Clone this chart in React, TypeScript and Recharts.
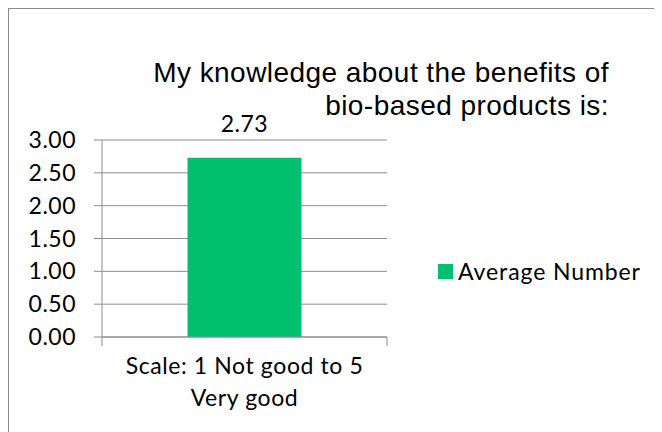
import React from 'react';
import {
  BarChart,
  Bar,
  XAxis,
  YAxis,
  CartesianGrid,
  Legend,
  LabelList,
} from 'recharts';

const categories = ['Scale: 1 Not good to 5\nVery good'];
const averageNumber = [2.73];
const yTicks = [0, 0.5, 1, 1.5, 2, 2.5, 3];
const seriesName = 'Average Number';
const titleLines = ['My knowledge about the benefits of', 'bio-based products is:'];

const data = categories.map((c, i) => ({ category: c, value: averageNumber[i] }));

const W = 653;
const H = 423;
const margin = { top: 131, right: 275, bottom: 5, left: 0 };
const yAxisWidth = 93;
const plotWidth = W - margin.left - margin.right - yAxisWidth;

const bodyFont = 'Lato, "Open Sans", sans-serif';
const axisColor = '#8c8c8c';
const barColor = '#00bf6f';

function CategoryTick(props: any) {
  const { x, y, payload } = props;
  const lines = String(payload.value).split('\n');
  const half = plotWidth / 2;
  return (
    <g>
      <line x1={x - half} y1={y} x2={x - half} y2={y + 9} stroke={axisColor} />
      <line x1={x + half} y1={y} x2={x + half} y2={y + 9} stroke={axisColor} />
      {lines.map((l, i) => (
        <text
          key={i}
          x={x}
          y={y + 28 + i * 32}
          textAnchor="middle"
          dominantBaseline="central"
          fontSize={23}
          letterSpacing={0.6}
          fontFamily={bodyFont}
          fill="#000"
        >
          {l}
        </text>
      ))}
    </g>
  );
}

function LegendContent() {
  return (
    <div
      style={{
        display: 'flex',
        alignItems: 'center',
        fontFamily: bodyFont,
        fontSize: 23,
        letterSpacing: 0.9,
        color: '#000',
        whiteSpace: 'nowrap',
      }}
    >
      <span style={{ width: 15, height: 15, background: barColor, display: 'inline-block', marginRight: 5 }} />
      <span>{seriesName}</span>
    </div>
  );
}

export default function App() {
  return (
    <div style={{ width: 654, height: 424, overflow: 'hidden' }}>
      <div
        style={{
          position: 'relative',
          width: W,
          height: H,
          borderTop: '1px solid #8c8c8c',
          borderLeft: '1px solid #8c8c8c',
          background: '#fff',
        }}
      >
        <div
          style={{
            position: 'absolute',
            right: 653 - 600,
            top: 47,
            textAlign: 'right',
            fontFamily: '"Liberation Sans", Arial, sans-serif',
            fontSize: 28,
            letterSpacing: 0.45,
            lineHeight: '33px',
            color: '#000',
            whiteSpace: 'nowrap',
            zIndex: 2,
          }}
        >
          {titleLines.map((t, i) => (
            <div key={i}>{t}</div>
          ))}
        </div>
        <BarChart width={W} height={H} data={data} margin={margin} barCategoryGap="30%">
          <CartesianGrid vertical={false} stroke={axisColor} />
          <XAxis
            dataKey="category"
            height={90}
            stroke={axisColor}
            tickLine={false}
            tickSize={0}
            tickMargin={0}
            tick={<CategoryTick />}
            interval={0}
          />
          <YAxis
            width={yAxisWidth}
            domain={[0, 3]}
            ticks={yTicks}
            interval={0}
            stroke={axisColor}
            tickSize={8}
            tickMargin={18}
            tickFormatter={(v: number) => v.toFixed(2)}
            tick={{ fill: '#000', fontSize: 23, fontFamily: bodyFont, letterSpacing: 0.5 }}
          />
          <Legend
            layout="horizontal"
            verticalAlign="middle"
            align="center"
            content={<LegendContent />}
            wrapperStyle={{ position: 'absolute', left: 429, top: 248, width: 'auto' }}
          />
          <Bar dataKey="value" name={seriesName} fill={barColor} isAnimationActive={false}>
            <LabelList
              dataKey="value"
              position="top"
              offset={26}
              formatter={(v: any) => Number(v).toFixed(2)}
              style={{ fill: '#000', fontSize: 23, fontFamily: bodyFont, letterSpacing: 0.5 }}
            />
          </Bar>
        </BarChart>
      </div>
    </div>
  );
}
